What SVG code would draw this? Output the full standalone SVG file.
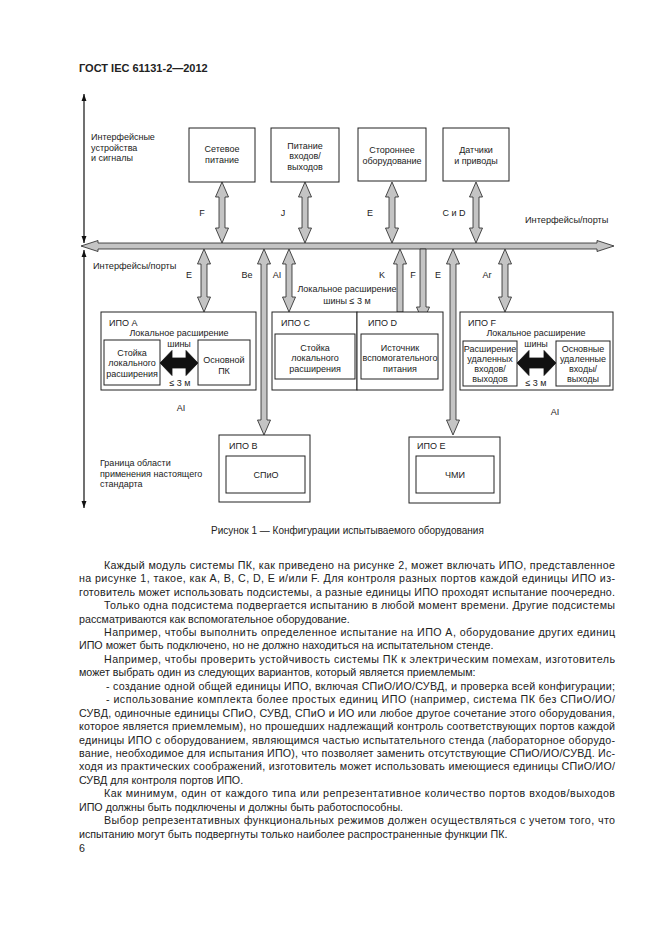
<svg xmlns="http://www.w3.org/2000/svg" width="661" height="935" viewBox="0 0 661 935">
<style>
text{font-family:"Liberation Sans",Arial,sans-serif;fill:#222}
.d{font-size:9px}
.c{text-anchor:middle}
.b{font-size:10.7px;fill:#1a1a1a}
.box{fill:#fff;stroke:#222;stroke-width:1}
.ga{fill:#c4c4c4;stroke:#222;stroke-width:0.8;stroke-linejoin:miter}
.ba{fill:#111;stroke:#111;stroke-width:0.8}
.thin{stroke:#111;stroke-width:1.2;fill:none}
</style>
<defs>
<marker id="ah" viewBox="0 0 10 10" refX="10" refY="5" markerWidth="7" markerHeight="7" markerUnits="userSpaceOnUse" orient="auto-start-reverse">
<path d="M0,1.5 L10,5 L0,8.5 Z" fill="#111"/>
</marker>
</defs>
<rect width="661" height="935" fill="#fff"/>
<text x="79" y="72" style="font-size:11px;font-weight:bold">ГОСТ IEC 61131-2—2012</text>

<g id="connectors">
<line class="thin" x1="84" y1="94" x2="84" y2="243" marker-start="url(#ah)" marker-end="url(#ah)"/>
<line class="thin" x1="84" y1="250" x2="84" y2="508" marker-start="url(#ah)" marker-end="url(#ah)"/>
<polygon class="ga" points="81,246 98,240.5 98,243 597,243 597,240.5 614,246 597,251.5 597,249 98,249 98,251.5"/>
<polygon class="ga" points="222,182 228.5,197 225,197 225,228 228.5,228 222,243 215.5,228 219,228 219,197 215.5,197"/>
<polygon class="ga" points="305,182 311.5,197 308,197 308,228 311.5,228 305,243 298.5,228 302,228 302,197 298.5,197"/>
<polygon class="ga" points="392,182 398.5,197 395,197 395,228 398.5,228 392,243 385.5,228 389,228 389,197 385.5,197"/>
<polygon class="ga" points="476,182 482.5,197 479,197 479,228 482.5,228 476,243 469.5,228 473,228 473,197 469.5,197"/>
<polygon class="ga" points="204,249 210.5,264 207,264 207,297 210.5,297 204,312 197.5,297 201,297 201,264 197.5,264"/>
<polygon class="ga" points="264,249 270.5,264 267,264 267,420 270.5,420 264,435 257.5,420 261,420 261,264 257.5,264"/>
<polygon class="ga" points="289,249 295.5,264 292,264 292,297 295.5,297 289,312 282.5,297 286,297 286,264 282.5,264"/>
<polygon class="ga" points="400,249 406.5,264 403,264 403,312 397,312 397,264 393.5,264"/>
<polygon class="ga" points="420,249 426,249 426,307 429.5,307 423,322 416.5,307 420,307"/>
<polygon class="ga" points="453,249 459.5,264 456,264 456,420 459.5,420 453,435 446.5,420 450,420 450,264 446.5,264"/>
<polygon class="ga" points="505,249 511.5,264 508,264 508,297 511.5,297 505,312 498.5,297 502,297 502,264 498.5,264"/>
<g class="d">
<text x="202" y="216" class="c">F</text>
<text x="283" y="216" class="c">J</text>
<text x="370" y="216" class="c">E</text>
<text x="454" y="216" class="c">C и D</text>
<text x="189" y="278" class="c">E</text>
<text x="247" y="278" class="c">Be</text>
<text x="277" y="278" class="c">AI</text>
<text x="382" y="278" class="c">K</text>
<text x="413" y="278" class="c">F</text>
<text x="438" y="278" class="c">E</text>
<text x="487" y="278" class="c">Ar</text>
<text x="347" y="292" class="c">Локальное расширение</text>
<text x="347" y="304" class="c">шины ≤ 3 м</text>
</g>
</g>

<g id="labels" class="d">
<text x="91" y="140">Интерфейсные</text>
<text x="91" y="150.5">устройства</text>
<text x="91" y="161">и сигналы</text>
<text x="525" y="223" style="font-size:9.2px">Интерфейсы/порты</text>
<text x="93" y="269" style="font-size:9.2px">Интерфейсы/порты</text>
<text x="100" y="466">Граница области</text>
<text x="100" y="476.5">применения настоящего</text>
<text x="100" y="487">стандарта</text>
<text x="181" y="411" class="c">AI</text>
<text x="555" y="415" class="c">AI</text>
</g>

<g id="node-setevoe" class="d">
<rect class="box" x="189" y="128" width="66" height="54"/>
<text x="222" y="151.5" class="c">Сетевое</text>
<text x="222" y="162.5" class="c">питание</text>
</g>
<g id="node-pitanie" class="d">
<rect class="box" x="271" y="128" width="68" height="54"/>
<text x="305" y="148.5" class="c">Питание</text>
<text x="305" y="159" class="c">входов/</text>
<text x="305" y="169.5" class="c">выходов</text>
</g>
<g id="node-storonnee" class="d">
<rect class="box" x="358" y="128" width="68" height="53"/>
<text x="392" y="152.5" class="c">Стороннее</text>
<text x="392" y="163.5" class="c">оборудование</text>
</g>
<g id="node-datchiki" class="d">
<rect class="box" x="443" y="128" width="66" height="53"/>
<text x="476" y="152.5" class="c">Датчики</text>
<text x="476" y="163.5" class="c">и приводы</text>
</g>

<g id="node-ipo-a" class="d">
<rect class="box" x="101" y="312" width="155" height="78"/>
<text x="109" y="325.5">ИПО А</text>
<text x="179" y="335.5" class="c">Локальное расширение</text>
<text x="179" y="346.5" class="c">шины</text>
<rect class="box" x="104" y="340" width="56" height="45"/>
<text x="132" y="355.5" class="c">Стойка</text>
<text x="132" y="366" class="c">локального</text>
<text x="132" y="376.5" class="c">расширения</text>
<rect class="box" x="198" y="340" width="52" height="45"/>
<text x="224" y="362.5" class="c">Основной</text>
<text x="224" y="373.5" class="c">ПК</text>
<polygon class="ba" points="160,363 172,350.5 172,358 186,358 186,350.5 198,363 186,375.5 186,368 172,368 172,375.5"/>
<text x="180" y="385.5" class="c">≤ 3 м</text>
</g>

<g id="node-ipo-c" class="d">
<rect class="box" x="272" y="312" width="85" height="78"/>
<text x="281" y="325.5">ИПО С</text>
<rect class="box" x="275" y="334" width="80" height="45"/>
<text x="315" y="350.5" class="c">Стойка</text>
<text x="315" y="361" class="c">локального</text>
<text x="315" y="371.5" class="c">расширения</text>
</g>
<g id="node-ipo-d" class="d">
<rect class="box" x="357" y="312" width="86" height="78"/>
<text x="368" y="325.5">ИПО D</text>
<rect class="box" x="361" y="334" width="77" height="45"/>
<text x="400" y="350.5" class="c">Источник</text>
<text x="400" y="361" class="c">вспомогательного</text>
<text x="400" y="371.5" class="c">питания</text>
</g>

<g id="node-ipo-f" class="d">
<rect class="box" x="460" y="312" width="153" height="78"/>
<text x="468" y="325.5">ИПО F</text>
<text x="536" y="335.5" class="c">Локальное расширение</text>
<text x="536" y="347" class="c">шины</text>
<rect class="box" x="463" y="341" width="54" height="45"/>
<text x="490" y="351.5" class="c">Расширение</text>
<text x="490" y="361.5" class="c">удаленных</text>
<text x="490" y="371.5" class="c">входов/</text>
<text x="490" y="381.5" class="c">выходов</text>
<rect class="box" x="556" y="341" width="54" height="45"/>
<text x="583" y="351.5" class="c">Основные</text>
<text x="583" y="361.5" class="c">удаленные</text>
<text x="583" y="371.5" class="c">входы/</text>
<text x="583" y="381.5" class="c">выходы</text>
<polygon class="ba" points="517,363 529,350.5 529,358 544,358 544,350.5 556,363 544,375.5 544,368 529,368 529,375.5"/>
<text x="536" y="385.5" class="c">≤ 3 м</text>
</g>

<g id="node-ipo-b" class="d">
<rect class="box" x="219" y="435" width="91" height="67"/>
<text x="229" y="448.5">ИПО В</text>
<rect class="box" x="226" y="456" width="79" height="37"/>
<text x="266" y="478" class="c">СПиО</text>
</g>
<g id="node-ipo-e" class="d">
<rect class="box" x="409" y="437" width="91" height="66"/>
<text x="417" y="448.5">ИПО Е</text>
<rect class="box" x="416" y="456" width="78" height="37"/>
<text x="455" y="478" class="c">ЧМИ</text>
</g>

<text x="211" y="534" style="font-size:10px">Рисунок 1 — Конфигурации испытываемого оборудования</text>

<g id="body" class="b">
<text x="104" y="568.7" textLength="511" lengthAdjust="spacing">Каждый модуль системы ПК, как приведено на рисунке 2, может включать ИПО, представленное</text>
<text x="79" y="582.1" textLength="536" lengthAdjust="spacing">на рисунке 1, такое, как А, В, С, D, Е и/или F. Для контроля разных портов каждой единицы ИПО из-</text>
<text x="79" y="595.6" textLength="536" lengthAdjust="spacing">готовитель может использовать подсистемы, а разные единицы ИПО проходят испытание поочередно.</text>
<text x="104" y="609" textLength="511" lengthAdjust="spacing">Только одна подсистема подвергается испытанию в любой момент времени. Другие подсистемы</text>
<text x="79" y="622.5">рассматриваются как вспомогательное оборудование.</text>
<text x="104" y="635.9" textLength="511" lengthAdjust="spacing">Например, чтобы выполнить определенное испытание на ИПО А, оборудование других единиц</text>
<text x="79" y="649.4">ИПО может быть подключено, но не должно находиться на испытательном стенде.</text>
<text x="104" y="662.8" textLength="511" lengthAdjust="spacing">Например, чтобы проверить устойчивость системы ПК к электрическим помехам, изготовитель</text>
<text x="79" y="676.3">может выбрать один из следующих вариантов, который является приемлемым:</text>
<text x="106" y="689.7" textLength="509" lengthAdjust="spacing">- создание одной общей единицы ИПО, включая СПиО/ИО/СУВД, и проверка всей конфигурации;</text>
<text x="106" y="703.2" textLength="509" lengthAdjust="spacing">- использование комплекта более простых единиц ИПО (например, система ПК без СПиО/ИО/</text>
<text x="79" y="716.6" textLength="536" lengthAdjust="spacing">СУВД, одиночные единицы СПиО, СУВД, СПиО и ИО или любое другое сочетание этого оборудования,</text>
<text x="79" y="730.1" textLength="536" lengthAdjust="spacing">которое является приемлемым), но прошедших надлежащий контроль соответствующих портов каждой</text>
<text x="79" y="743.5" textLength="536" lengthAdjust="spacing">единицы ИПО с оборудованием, являющимся частью испытательного стенда (лабораторное оборудо-</text>
<text x="79" y="757" textLength="536" lengthAdjust="spacing">вание, необходимое для испытания ИПО), что позволяет заменить отсутствующие СПиО/ИО/СУВД. Ис-</text>
<text x="79" y="770.4" textLength="536" lengthAdjust="spacing">ходя из практических соображений, изготовитель может использовать имеющиеся единицы СПиО/ИО/</text>
<text x="79" y="783.9">СУВД для контроля портов ИПО.</text>
<text x="104" y="797.3" textLength="511" lengthAdjust="spacing">Как минимум, один от каждого типа или репрезентативное количество портов входов/выходов</text>
<text x="79" y="810.8">ИПО должны быть подключены и должны быть работоспособны.</text>
<text x="104" y="824.2" textLength="511" lengthAdjust="spacing">Выбор репрезентативных функциональных режимов должен осуществляться с учетом того, что</text>
<text x="79" y="837.7">испытанию могут быть подвергнуты только наиболее распространенные функции ПК.</text>
<text x="79" y="852">6</text>
</g>
</svg>
